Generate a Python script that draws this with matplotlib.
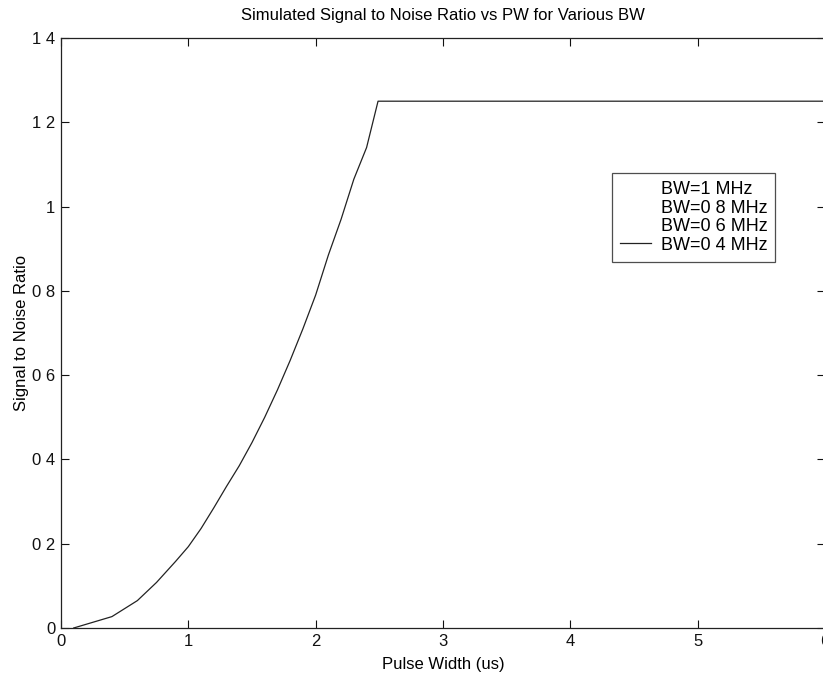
import matplotlib
matplotlib.use("Agg")
import matplotlib.pyplot as plt
from matplotlib.lines import Line2D

plt.rcParams['font.family'] = ['Liberation Sans', 'DejaVu Sans']

# Data
pulse_width = [0.1, 0.3, 0.4, 0.6, 0.75, 0.9, 1.0, 1.1, 1.2, 1.3, 1.4, 1.5, 1.6, 1.7,
               1.8, 1.9, 2.0, 2.1, 2.2, 2.3, 2.4, 2.49, 6.0]
snr = [0.0, 0.018, 0.027, 0.065, 0.108, 0.158, 0.193, 0.236, 0.285, 0.336, 0.385, 0.44,
       0.50, 0.565, 0.635, 0.71, 0.79, 0.885, 0.97, 1.065, 1.14, 1.25, 1.25]

series_labels = ["BW=1 MHz", "BW=0 8 MHz", "BW=0 6 MHz", "BW=0 4 MHz"]
x_ticks = [0, 1, 2, 3, 4, 5, 6]
x_ticklabels = ["0", "1", "2", "3", "4", "5", "6"]
y_ticks = [0, 0.2, 0.4, 0.6, 0.8, 1.0, 1.2, 1.4]
y_ticklabels = ["0", "0 2", "0 4", "0 6", "0 8", "1", "1 2", "1 4"]

fig = plt.figure(figsize=(8.23, 6.77), dpi=100)
ax = fig.add_axes([0.0741, 0.0724, 0.9283, 0.8715])

ax.plot(pulse_width, snr, color="#222222", linewidth=0.9)

ax.set_xlim(0, 6)
ax.set_ylim(0, 1.4)
ax.set_xticks(x_ticks)
ax.set_xticklabels(x_ticklabels)
ax.set_yticks(y_ticks)
ax.set_yticklabels(y_ticklabels)
ax.tick_params(direction="in", length=6, width=0.8, top=True, right=True,
               labelsize=12, colors="#111111", pad=4)
for s in ax.spines.values():
    s.set_linewidth(0.9)
    s.set_color("#222222")

ax.set_title("Simulated Signal to Noise Ratio vs PW for Various BW", fontsize=12, pad=13)
ax.set_xlabel("Pulse Width (us)", fontsize=12, labelpad=6)
ax.set_ylabel("Signal to Noise Ratio", fontsize=12, labelpad=2)

handles = [Line2D([], [], linestyle="none") for _ in series_labels[:-1]]
handles.append(Line2D([], [], color="#222222", linewidth=0.9))
leg = ax.legend(handles, series_labels, loc="upper left",
                bbox_to_anchor=(0.721, 0.771), fontsize=13,
                frameon=True, fancybox=False, edgecolor="#222222",
                handlelength=1.7, handletextpad=0.55, borderpad=0.45,
                labelspacing=0.08, borderaxespad=0)
leg.get_frame().set_linewidth(0.9)

fig.savefig("out.png", dpi=100)
